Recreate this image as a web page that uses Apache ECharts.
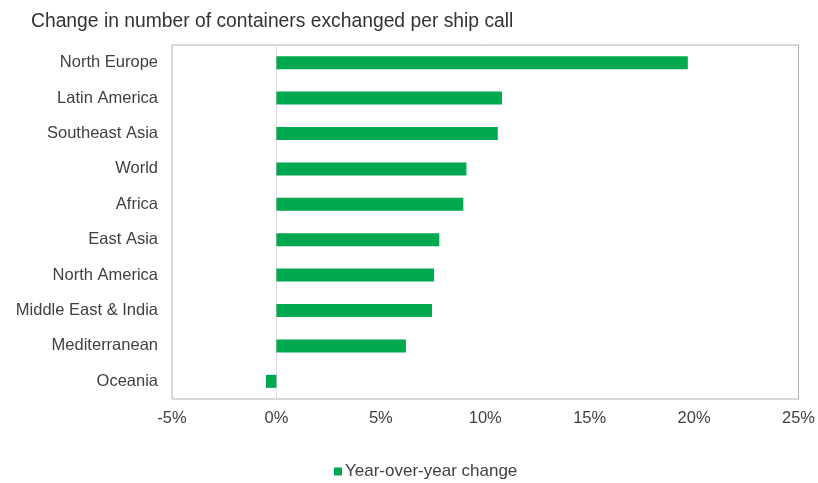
<!DOCTYPE html>
<html>
<head>
<meta charset="utf-8">
<script src="https://cdn.jsdelivr.net/npm/echarts@6/dist/echarts.min.js"></script>
<style>html,body{margin:0;padding:0;background:#fff}#c{width:818px;height:483px}</style>
</head>
<body>
<div id="c"></div>
<script>
const categories = ["North Europe","Latin America","Southeast Asia","World","Africa","East Asia","North America","Middle East & India","Mediterranean","Oceania"];
const yoyChange = [19.7, 10.8, 10.6, 9.1, 8.95, 7.8, 7.55, 7.45, 6.2, -0.5];
const seriesName = "Year-over-year change";
const titleText = "Change in number of containers exchanged per ship call";

const chart = echarts.init(document.getElementById('c'), null, {renderer:'canvas'});
const font = "Arial, 'Liberation Sans', sans-serif";
chart.setOption({
  animation:false,
  backgroundColor:'#fff',
  title:{text:titleText,left:26,top:7,textStyle:{fontFamily:font,fontSize:19.3,fontWeight:'normal',color:'#333'}},
  legend:{data:[seriesName],top:458,left:329,itemWidth:8,itemHeight:8,icon:'rect',itemGap:4,
    textStyle:{fontFamily:font,fontSize:17,color:'#404040',padding:[0,0,0,-2]}},
  grid:{left:172,right:17,top:45,bottom:84,show:true,borderColor:'#b0b0b0',borderWidth:1,containLabel:false},
  xAxis:{type:'value',min:-5,max:25,interval:5,
    axisLabel:{formatter:'{value}%',fontFamily:font,fontSize:16.5,color:'#404040',margin:11},
    axisLine:{show:false},axisTick:{show:false},splitLine:{show:false}},
  yAxis:{type:'category',data:categories,inverse:true,
    axisLabel:{fontFamily:font,fontSize:16.5,color:'#404040',margin:14},
    axisLine:{show:true,onZero:true,lineStyle:{color:'#dcdcdc',width:1}},axisTick:{show:false}},
  series:[{name:seriesName,type:'bar',data:yoyChange,barWidth:13,itemStyle:{color:'#00a84f'}}]
});
</script>
</body>
</html>
